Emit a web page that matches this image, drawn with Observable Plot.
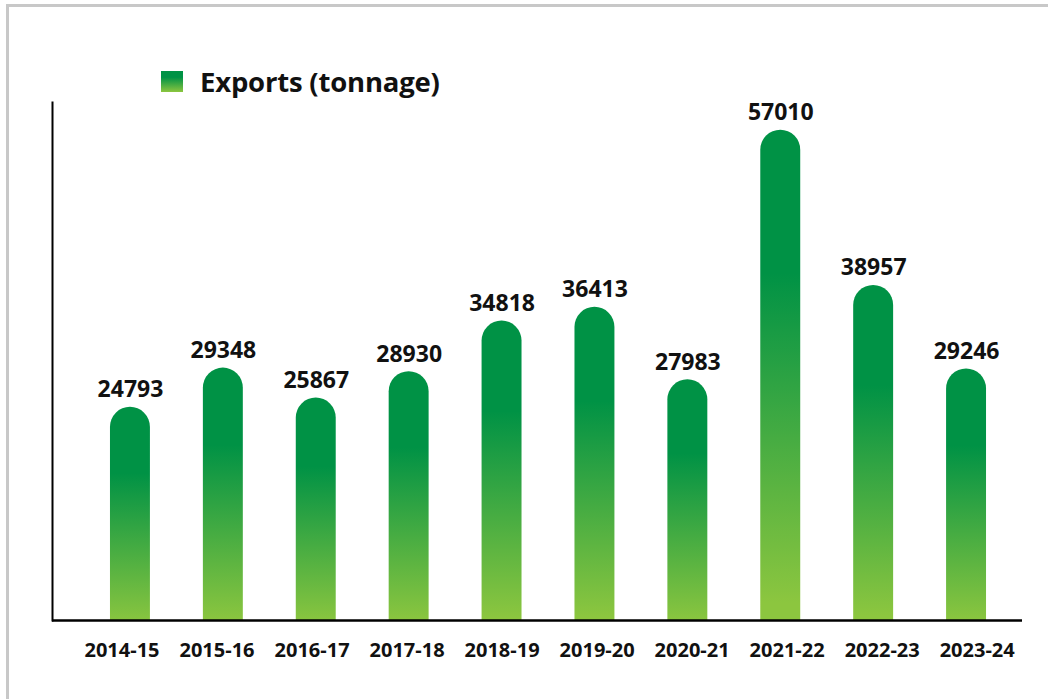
<!DOCTYPE html>
<html>
<head>
<meta charset="utf-8">
<script src="https://cdn.jsdelivr.net/npm/d3@7"></script>
<script src="https://cdn.jsdelivr.net/npm/@observablehq/plot@0.6"></script>
<style>
  html, body { margin: 0; padding: 0; background: #fff; overflow: hidden; }
  #wrap { position: relative; width: 1048px; height: 699px; overflow: hidden; font-family: "Open Sans", Lato, sans-serif; }
  #frame { position: absolute; left: 6px; top: 4px; width: 1100px; height: 800px; border: 3px solid #c8c8c8; box-sizing: border-box; }
  #legend { position: absolute; left: 161px; top: 62.5px; display: flex; align-items: center; font-weight: 700; font-size: 27.5px; line-height: normal; color: #111; letter-spacing: -0.2px; }
  #legend .sw { width: 22px; height: 21px; background: linear-gradient(#009245 0%, #009245 30%, #8cc63f 100%); margin-right: 17px; }
  #chart, #ticks { position: absolute; left: 0; top: 0; }
</style>
</head>
<body>
<div id="wrap">
  <div id="frame"></div>
  <div id="legend"><div class="sw"></div><span>Exports (tonnage)</span></div>
  <div id="chart"></div>
  <div id="ticks"></div>
</div>
<script>
const years = ["2014-15","2015-16","2016-17","2017-18","2018-19","2019-20","2020-21","2021-22","2022-23","2023-24"];
const exportsTonnage = [24793, 29348, 25867, 28930, 34818, 36413, 27983, 57010, 38957, 29246];
const seriesName = "Exports (tonnage)";

const data = years.map((y, i) => ({year: y, value: exportsTonnage[i]}));
const FONT = "'Open Sans', Lato, sans-serif";

const plot = Plot.plot({
  width: 1048,
  height: 699,
  marginLeft: 52,
  marginRight: 26,
  marginTop: 102,
  marginBottom: 79,
  style: {fontFamily: FONT, background: "transparent", overflow: "visible"},
  x: {domain: years, range: [83.5, 1012.5], paddingInner: 0.57, paddingOuter: 0.285, round: false, axis: null},
  y: {domain: [0, 60000], range: [620, 104], axis: null},
  marks: [
    Plot.barY(data, {x: "year", y: "value", fill: "url(#barGrad)", rx: 20, insetBottom: -24, clip: "frame"}),
    Plot.frame({anchor: "left", stroke: "#000", strokeWidth: 2}),
    Plot.ruleY([0], {stroke: "#000", strokeWidth: 2.5}),
    Plot.text(data, {x: "year", y: "value", text: d => String(d.value), lineAnchor: "bottom", dy: -10, fontSize: 23, fontWeight: 700, fill: "#111"})
  ]
});

const ns = "http://www.w3.org/2000/svg";
const defs = document.createElementNS(ns, "defs");
const grad = document.createElementNS(ns, "linearGradient");
grad.setAttribute("id", "barGrad");
grad.setAttribute("x1", "0"); grad.setAttribute("y1", "0");
grad.setAttribute("x2", "0"); grad.setAttribute("y2", "1");
[["0%", "#009245"], ["28%", "#009245"], ["92%", "#8cc63f"], ["100%", "#8cc63f"]].forEach(([o, c]) => {
  const s = document.createElementNS(ns, "stop");
  s.setAttribute("offset", o); s.setAttribute("stop-color", c);
  grad.appendChild(s);
});
defs.appendChild(grad);
plot.insertBefore(defs, plot.firstChild);
document.getElementById("chart").appendChild(plot);

// Category labels sit on a slightly wider spacing than the bars
const tickAxis = Plot.plot({
  width: 1048,
  height: 699,
  marginLeft: 52,
  marginRight: 26,
  marginTop: 102,
  marginBottom: 79,
  style: {fontFamily: FONT, background: "transparent", overflow: "visible"},
  x: {type: "point", domain: years, range: [121.5, 976.7], padding: 0, round: false, label: null},
  y: {domain: [0, 60000], range: [620, 104], axis: null},
  marks: [
    Plot.axisX({tickSize: 0, tickPadding: 22, fontSize: 20, fontWeight: 700, fill: "#111", label: null})
  ]
});
document.getElementById("ticks").appendChild(tickAxis);
</script>
</body>
</html>
